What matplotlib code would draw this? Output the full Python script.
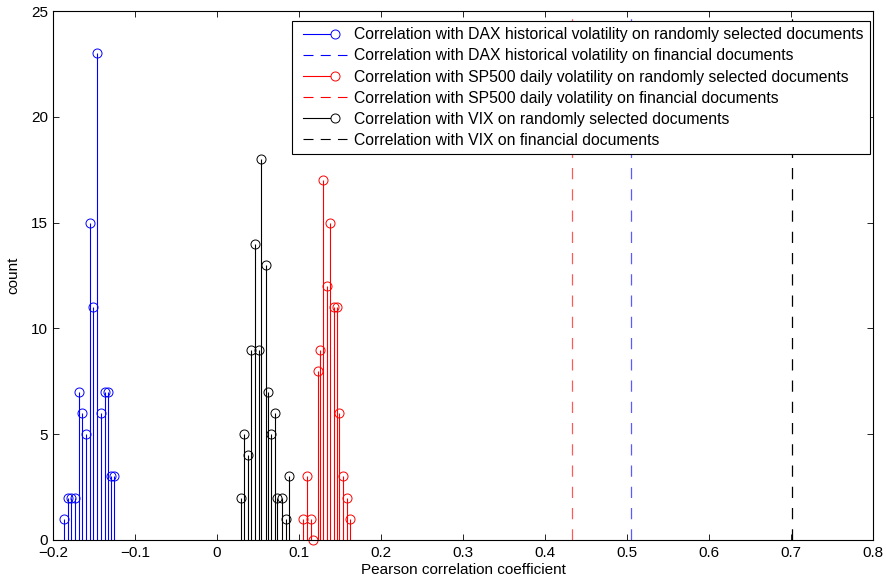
import numpy as np
import matplotlib
matplotlib.use("Agg")
import matplotlib.pyplot as plt
from matplotlib.lines import Line2D
from matplotlib.legend_handler import HandlerBase

plt.rcParams['font.family'] = ['Liberation Sans', 'DejaVu Sans']

# histogram bin centres and counts
dax_x = [-0.186, -0.182, -0.178, -0.173, -0.168, -0.165, -0.160, -0.155,
         -0.151, -0.146, -0.142, -0.137, -0.133, -0.129, -0.125]
dax_n = [1, 2, 2, 2, 7, 6, 5, 15, 11, 23, 6, 7, 7, 3, 3]

vix_x = [0.0293, 0.0329, 0.0374, 0.0415, 0.0463, 0.0508, 0.0540, 0.0594,
         0.0618, 0.0663, 0.0707, 0.0736, 0.0789, 0.0838, 0.0878]
vix_n = [2, 5, 4, 9, 14, 9, 18, 13, 7, 5, 6, 2, 2, 1, 3]

sp_x = [0.1045, 0.1094, 0.1143, 0.1175, 0.1228, 0.1252, 0.1293, 0.1338,
        0.1382, 0.1423, 0.1460, 0.1492, 0.1540, 0.1582, 0.1626]
sp_n = [1, 3, 1, 0, 8, 9, 17, 12, 15, 11, 11, 6, 3, 2, 1]

# correlation on financial documents
dax_fin = 0.505
sp_fin = 0.433
vix_fin = 0.701

xticks = [-0.2, -0.1, 0, 0.1, 0.2, 0.3, 0.4, 0.5, 0.6, 0.7, 0.8]
xtick_labels = ['\u22120.2', '\u22120.1', '0', '0.1', '0.2', '0.3', '0.4',
                '0.5', '0.6', '0.7', '0.8']
yticks = [0, 5, 10, 15, 20, 25]

labels = [
    'Correlation with DAX historical volatility on randomly selected documents',
    'Correlation with DAX historical volatility on financial documents',
    'Correlation with SP500 daily volatility on randomly selected documents',
    'Correlation with SP500 daily volatility on financial documents',
    'Correlation with VIX on randomly selected documents',
    'Correlation with VIX on financial documents',
]

FS = 11
LFS = 11.3
DASH = (0, (9, 8))
LEG_DASH = (0, (9, 6.5))
MS = 6.5


class LegHandler(HandlerBase):
    # matlab style legend entries: stem = line with circle near right end
    def __init__(self, stem):
        super().__init__()
        self.stem = stem

    def create_artists(self, legend, orig_handle, xdescent, ydescent,
                       width, height, fontsize, trans):
        y = height / 2 - ydescent
        x0 = -xdescent + 3.0
        x1 = width - xdescent
        c = orig_handle.get_color()
        out = []
        if self.stem:
            xm = x1 - 9.0
            out.append(Line2D([x0, xm - MS / 2], [y, y], color=c, lw=0.8))
            out.append(Line2D([xm], [y], marker='o', ms=MS, mfc='none',
                              mec=c, mew=0.7, ls='none'))
        else:
            out.append(Line2D([x0, x1], [y, y], color=c, lw=0.8, ls=LEG_DASH))
        for a in out:
            a.set_transform(trans)
        return out


fig = plt.figure(figsize=(8.86, 5.83), dpi=100)
ax = fig.add_axes([0.0598, 0.0738, 0.9255, 0.9073])

for xs, ns, c in [(dax_x, dax_n, 'b'), (sp_x, sp_n, 'r'), (vix_x, vix_n, 'k')]:
    ax.vlines(xs, 0, ns, colors=c, lw=0.8)
    ax.plot(xs, ns, 'o', ms=MS, mfc='none', mec=c, mew=0.7, clip_on=False)

ax.axvline(dax_fin, color='#5a5aff', lw=0.9, ls=DASH)
ax.axvline(sp_fin, color='#ff5a5a', lw=0.9, ls=DASH)
ax.axvline(vix_fin, color='k', lw=0.9, ls=DASH)

ax.set_xlim(-0.2, 0.8)
ax.set_ylim(0, 25)
ax.set_xticks(xticks)
ax.set_xticklabels(xtick_labels)
ax.set_yticks(yticks)
ax.tick_params(direction='in', top=True, right=True, length=4, width=0.6,
               labelsize=FS)
ax.tick_params(axis='x', pad=4.2)
ax.tick_params(axis='y', pad=3.5)
for s in ax.spines.values():
    s.set_linewidth(0.8)

ax.set_xlabel('Pearson correlation coefficient', fontsize=FS, labelpad=2.5)
ax.set_ylabel('count', fontsize=FS, labelpad=8)

h = [Line2D([], [], color=c) for c in ['b', 'b', 'r', 'r', 'k', 'k']]
hmap = {hh: LegHandler(i % 2 == 0) for i, hh in enumerate(h)}
leg = ax.legend(h, labels, loc='upper right',
                bbox_to_anchor=(0.9963, 0.981), borderaxespad=0,
                fontsize=LFS, fancybox=False, framealpha=1, edgecolor='k',
                handlelength=3.1, handletextpad=0.45, labelspacing=0.39,
                borderpad=0.4, handler_map=hmap)
leg.get_frame().set_linewidth(0.8)

fig.savefig('out.png', dpi=100)
